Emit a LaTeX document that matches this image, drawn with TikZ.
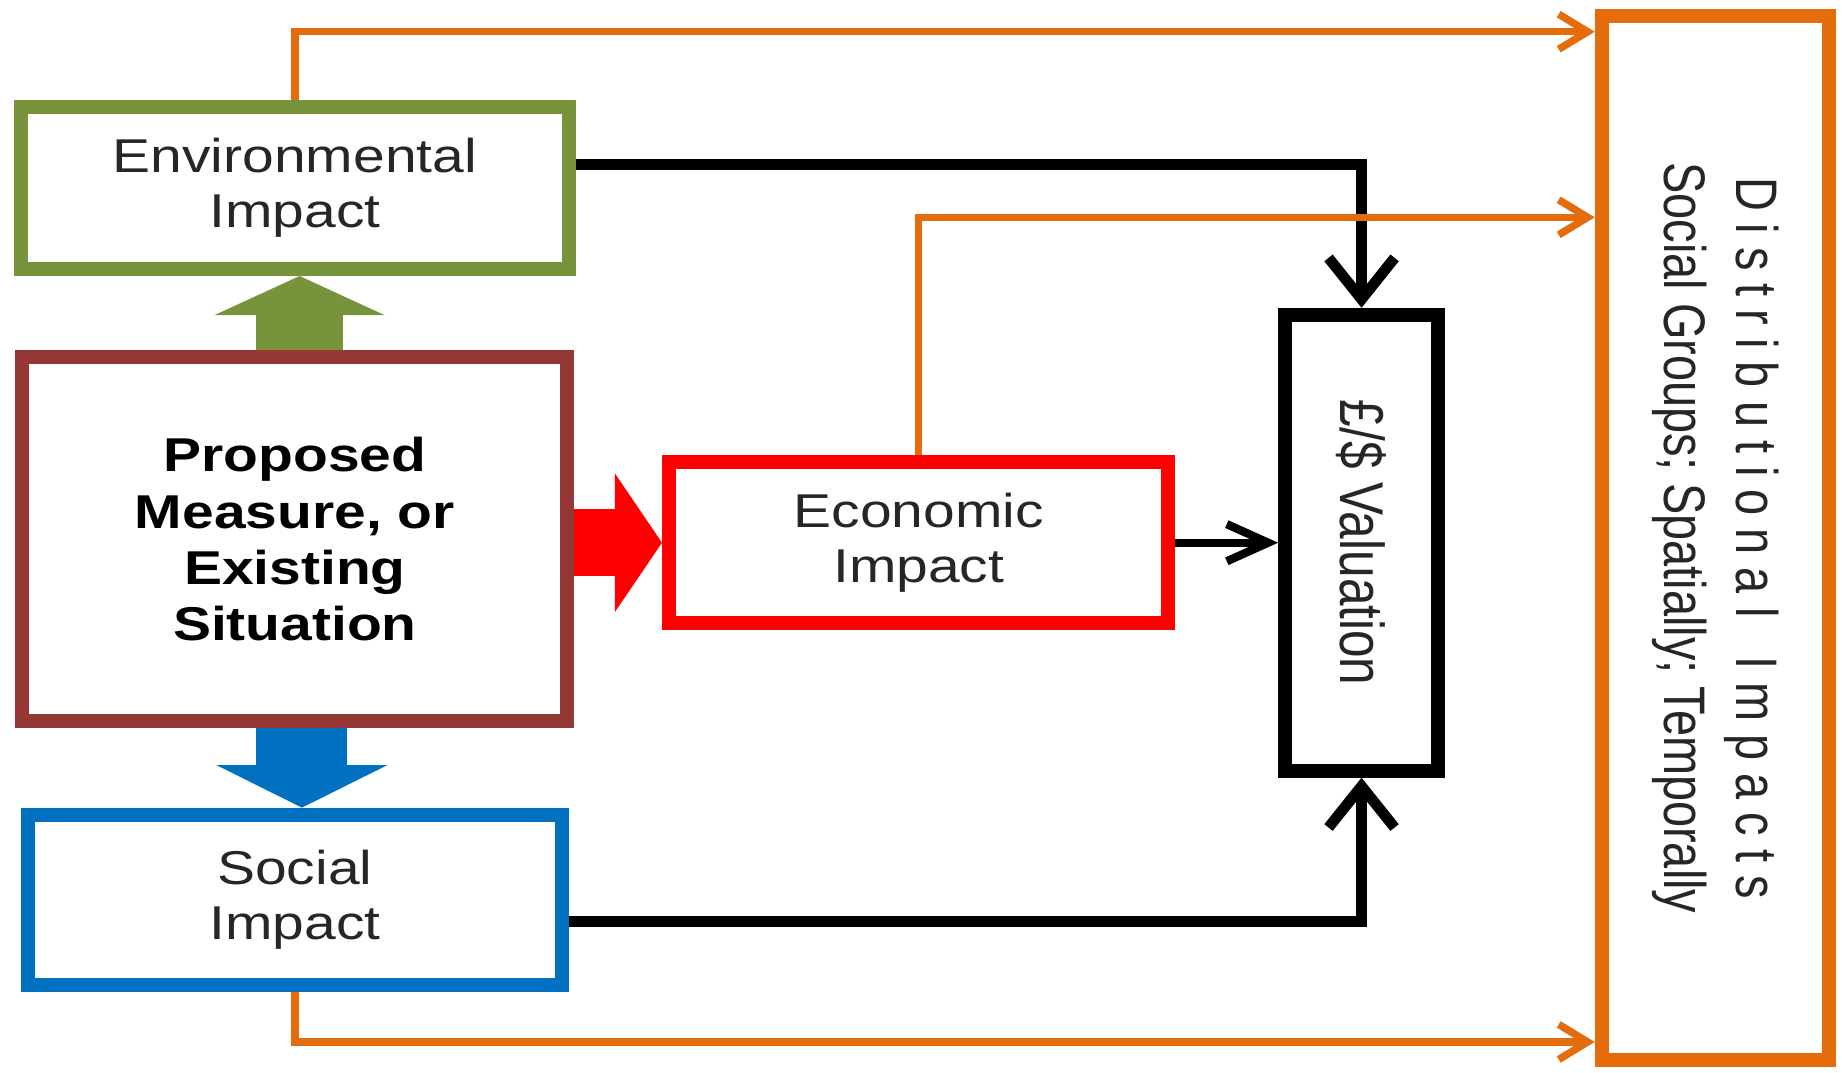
\documentclass[tikz,border=0pt]{standalone}
\usepackage{fontspec}
\setmainfont{Liberation Sans}
\newfontfamily\wideface{Liberation Sans}[FakeStretch=1.2]
\newfontfamily\narrowface{Liberation Sans}[FakeStretch=0.8]
\usetikzlibrary{
  arrows.meta, % for barbed and block arrow tips
  positioning, % for relative node positioning
  calc, % for position calculations
}
\definecolor{env-green}{RGB}{119, 147, 60}
\definecolor{measure-red}{RGB}{149, 55, 53}
\definecolor{econ-red}{RGB}{255, 0, 0}
\definecolor{social-blue}{RGB}{0, 112, 192}
\definecolor{dist-orange}{RGB}{228, 108, 10}

\begin{document}
\begin{tikzpicture}[
    font=\wideface\fontsize{11.5}{13.4}\selectfont,
    impact/.style={draw=#1, line width=3.4pt, align=center, inner sep=2pt, text=black!85},%
    flow/.style={line width=2.6pt, -{Straight Barb[length=10pt, width=16pt]}},%
    distflow/.style={dist-orange, line width=1.8pt, -{Straight Barb[length=7pt, width=8.5pt]}},%
    bigarrow/.style={line width=21pt, -{Triangle[length=9.5pt, width=41pt]}},%
  ]
  \useasboundingbox (0,0) rectangle (15.68,9.13);

  % boxes
  \node[impact=env-green, minimum width=4.66cm, minimum height=1.38cm] (env) at (2.51,7.53)
    {Environmental\\Impact};
  \node[impact=measure-red, text=black, font=\wideface\fontsize{11.5}{13.6}\selectfont\bfseries,
    minimum width=4.64cm, minimum height=3.10cm] (measure) at (2.51,4.54)
    {Proposed\\Measure, or\\Existing\\Situation};
  \node[impact=social-blue, minimum width=4.55cm, minimum height=1.45cm] (social) at (2.51,1.47)
    {Social\\Impact};
  \node[impact=econ-red, minimum width=4.25cm, minimum height=1.37cm] (econ) at (7.82,4.51)
    {Economic\\Impact};
  \node[impact=black, minimum width=1.30cm, minimum height=3.88cm] (val) at (11.59,4.51)
    {\rotatebox{-90}{\narrowface\fontsize{15}{18}\selectfont £/\$ Valuation}};
  \node[impact=dist-orange, minimum width=1.93cm, minimum height=8.88cm] (dist) at (14.60,4.55)
    {\rotatebox{-90}{\narrowface\fontsize{14.2}{17.4}\selectfont
      \begin{tabular}{@{}c@{}}
        D i s t r i b u t i o n a l\ \ \ I m p a c t s\\
        Social Groups; Spatially; Temporally
      \end{tabular}}};

  % block arrows out of the measure
  \draw[bigarrow, env-green] ([xshift=.4mm]measure.north) -- ([xshift=.4mm]env.south);
  \draw[bigarrow, social-blue, -{Triangle[length=10.3pt, width=41pt]}, line width=22pt]
    ([xshift=.6mm]measure.south) -- ([xshift=.6mm]social.north);
  \draw[bigarrow, econ-red, -{Triangle[length=11.4pt, width=33pt]}, line width=16.2pt]
    (measure.east |- econ.west) -- (econ.west);

  % flows into the valuation
  \draw[flow] ([yshift=2mm]env.east) -| (val.north);
  \draw[flow] ([yshift=-1.85mm]social.east) -| (val.south);
  \draw[flow, line width=2pt, -{Straight Barb[length=10pt, width=9pt]}] (econ.east) -- (val.west);

  % distributional flows
  \coordinate (d1) at ($(dist.north west)+(0,-0.19)$);
  \coordinate (d2) at ($(dist.north west)+(0,-1.77)$);
  \coordinate (d3) at ($(dist.south west)+(0,0.21)$);
  \draw[distflow] (env.north) |- (d1);
  \draw[distflow] (econ.north) |- (d2);
  \draw[distflow] (social.south) |- (d3);
\end{tikzpicture}
\end{document}
